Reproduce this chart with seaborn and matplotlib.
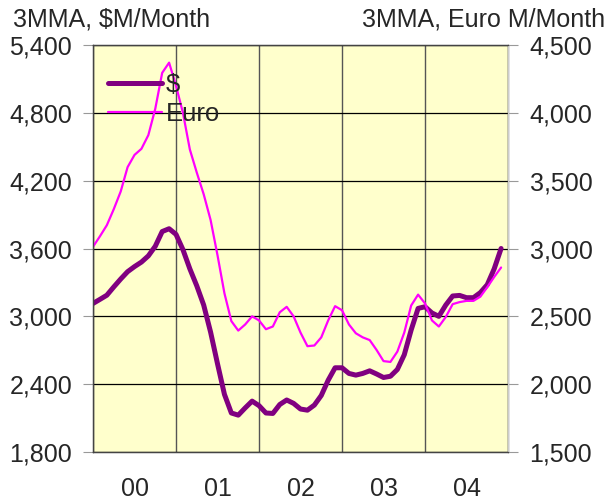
import numpy as np
import pandas as pd
import matplotlib
matplotlib.use("Agg")
import matplotlib.pyplot as plt
import seaborn as sns
from matplotlib.ticker import FuncFormatter, FixedLocator

# monthly 3-month moving averages, Jan 2000 .. Dec 2004
years = ["00", "01", "02", "03", "04"]
usd = [3114, 3150, 3187, 3260, 3330, 3395, 3440, 3480, 3535, 3620, 3750, 3775,
       3725, 3590, 3420, 3270, 3100, 2860, 2580, 2310, 2145, 2126, 2190, 2250,
       2210, 2145, 2141, 2220, 2260, 2230, 2180, 2170, 2215, 2300, 2435, 2545,
       2545, 2495, 2480, 2495, 2518, 2490, 2459, 2470, 2530, 2660, 2880, 3070,
       3085, 3030, 3000, 3100, 3180, 3185, 3165, 3165, 3210, 3280, 3420, 3600]
euro = [3013, 3090, 3172, 3290, 3420, 3600, 3690, 3735, 3836, 4030, 4295, 4370,
        4200, 4000, 3730, 3560, 3400, 3210, 2950, 2670, 2465, 2395, 2440, 2500,
        2470, 2405, 2425, 2530, 2570, 2500, 2380, 2280, 2285, 2345, 2470, 2575,
        2545, 2440, 2375, 2345, 2325, 2252, 2170, 2164, 2240, 2380, 2580, 2660,
        2595, 2470, 2425, 2495, 2590, 2605, 2614, 2614, 2645, 2715, 2790, 2860]

df = pd.DataFrame({"t": np.arange(len(usd)) / 12.0, "usd": usd, "euro": euro})

sns.set_style("white")
plt.rcParams["font.family"] = ["Liberation Sans", "DejaVu Sans"]

fig = plt.figure(figsize=(6.06, 5.03), dpi=100)
ax = fig.add_axes([0.1535, 0.1014, 0.6848, 0.8091])
ax.set_facecolor("#FFFFCC")
ax2 = ax.twinx()

sns.lineplot(data=df, x="t", y="usd", ax=ax, color="#800080", linewidth=3.6,
             label="$", legend=False)
sns.lineplot(data=df, x="t", y="euro", ax=ax2, color="#FF00FF", linewidth=1.6,
             label="Euro", legend=False)

ax.set_xlim(0, 5)
ax.set_ylim(1800, 5400)
ax2.set_ylim(1500, 4500)
ax.set_yticks(np.arange(1800, 5401, 600))
ax2.set_yticks(np.arange(1500, 4501, 500))
fmt = FuncFormatter(lambda v, p: f"{int(v):,}")
ax.yaxis.set_major_formatter(fmt)
ax2.yaxis.set_major_formatter(fmt)

ax.xaxis.set_major_locator(FixedLocator(np.arange(0, 6)))
ax.xaxis.set_minor_locator(FixedLocator(np.arange(5) + 0.5))
ax.set_xticklabels([])
ax.set_xticklabels(years, minor=True)
ax.tick_params(axis="x", which="both", length=0, labelsize=18, pad=18)
ax.tick_params(axis="y", length=7, width=0.8, color="#999999", labelsize=18, pad=8, left=True)
ax2.tick_params(axis="y", length=7, width=0.8, color="#999999", labelsize=18, pad=8.5, right=True)

ax.grid(True, axis="y", color="black", linewidth=0.9)
ax.grid(True, axis="x", which="major", color="#555555", linewidth=1.0)
ax.set_axisbelow(True)
ax.set_xlabel("")
ax.set_ylabel("")
ax2.set_ylabel("")
for a in (ax, ax2):
    for s in a.spines.values():
        s.set_color("#444444")
        s.set_linewidth(0.9)
ax2.spines["right"].set_color("#cccccc")

fig.text(13 / 606, 1 - 19 / 503, "3MMA, $M/Month", fontsize=18, ha="left", va="center")
fig.text(362 / 606, 1 - 19 / 503, "3MMA, Euro M/Month", fontsize=18, ha="left", va="center")

h1, l1 = ax.get_legend_handles_labels()
h2, l2 = ax2.get_legend_handles_labels()
ax2.legend(h1 + h2, l1 + l2, loc="upper left", bbox_to_anchor=(15 / 415, 0.932),
           frameon=False, fontsize=18.5, handlelength=2.1, handletextpad=0.15,
           labelspacing=0.22, borderaxespad=0, borderpad=0)

fig.savefig("out.png", dpi=100)
